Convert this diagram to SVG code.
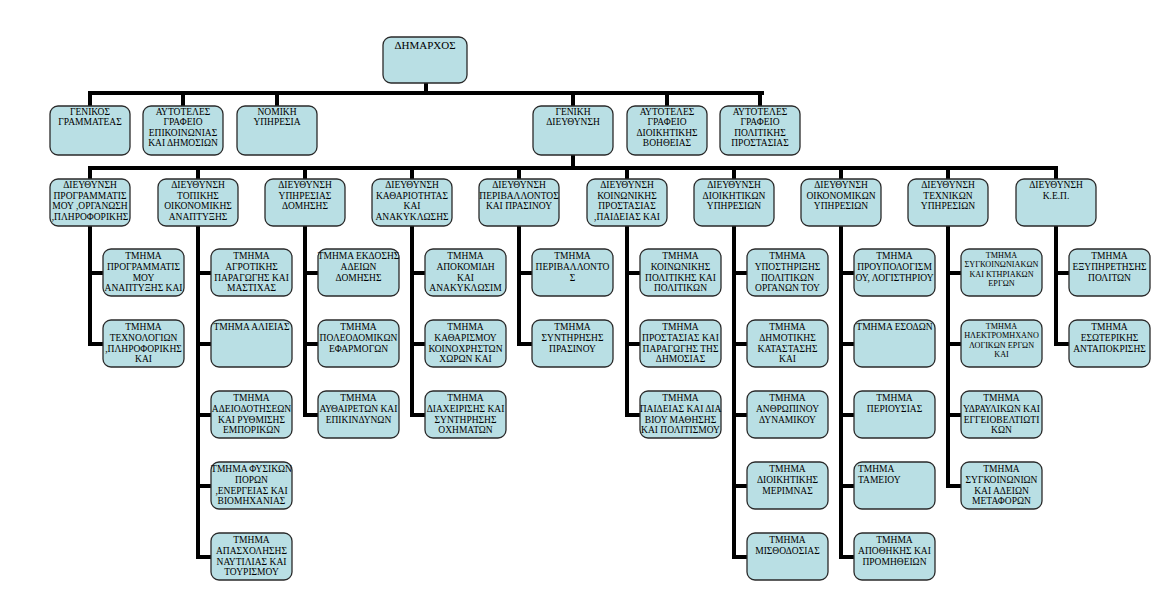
<svg xmlns="http://www.w3.org/2000/svg" width="1163" height="614" viewBox="0 0 1163 614">
<style>
.b{fill:#b9dfe4;stroke:#2a2a2a;stroke-width:1.3}
.t{font-family:"Liberation Serif","Times New Roman",serif;font-size:9.5px;fill:#000;text-anchor:middle}
.s{font-size:8.2px}
.big{font-size:11px}
.c{fill:none;stroke:#000;stroke-width:4;stroke-linecap:square}
</style>
<rect width="1163" height="614" fill="#fff"/>
<g id="connectors" class="c">
<path d="M426 83V93M90 93H762M90 93V106M183 93V106M277 93V106M573 93V106M667 93V106M760 93V106"/>
<path d="M573 155V168M90 168H1056M90 168V179M198 168V179M305 168V179M412 168V179M519 168V179M627 168V179M734 168V179M841 168V179M948 168V179M1056 168V179"/>
<path d="M90 226V344M90 273H103M90 344H103"/>
<path d="M198 226V557M198 273H211M198 344H211M198 415H211M198 486H211M198 557H211"/>
<path d="M305 226V415M305 273H318M305 344H318M305 415H318"/>
<path d="M412 226V415M412 273H425M412 344H425M412 415H425"/>
<path d="M519 226V344M519 273H532M519 344H532"/>
<path d="M627 226V415M627 273H640M627 344H640M627 415H640"/>
<path d="M734 226V557M734 273H747M734 344H747M734 415H747M734 486H747M734 557H747"/>
<path d="M841 226V557M841 273H854M841 344H854M841 415H854M841 486H854M841 557H854"/>
<path d="M948 226V486M948 273H961M948 344H961M948 415H961M948 486H961"/>
<path d="M1056 226V344M1056 273H1069M1056 344H1069"/>
</g>

<g id="dimarchos"><rect class="b" x="383" y="37" width="84" height="46" rx="8"/><text class="t big" x="425" y="49">ΔΗΜΑΡΧΟΣ</text></g>

<g id="genikos-grammateas"><rect class="b" x="50" y="106" width="80" height="49" rx="8"/><text class="t" x="90" y="115"><tspan x="90">ΓΕΝΙΚΟΣ</tspan><tspan x="90" dy="10.3">ΓΡΑΜΜΑΤΕΑΣ</tspan></text></g>
<g id="grafeio-epikoinonias"><rect class="b" x="143" y="106" width="80" height="49" rx="8"/><text class="t" x="183" y="115"><tspan x="183">ΑΥΤΟΤΕΛΕΣ</tspan><tspan x="183" dy="10.3">ΓΡΑΦΕΙΟ</tspan><tspan x="183" dy="10.3">ΕΠΙΚΟΙΝΩΝΙΑΣ</tspan><tspan x="183" dy="10.3">ΚΑΙ ΔΗΜΟΣΙΩΝ</tspan></text></g>
<g id="nomiki-ypiresia"><rect class="b" x="237" y="106" width="80" height="49" rx="8"/><text class="t" x="277" y="115"><tspan x="277">ΝΟΜΙΚΗ</tspan><tspan x="277" dy="10.3">ΥΠΗΡΕΣΙΑ</tspan></text></g>
<g id="geniki-diefthynsi"><rect class="b" x="533" y="106" width="80" height="49" rx="8"/><text class="t" x="573" y="115"><tspan x="573">ΓΕΝΙΚΗ</tspan><tspan x="573" dy="10.3">ΔΙΕΥΘΥΝΣΗ</tspan></text></g>
<g id="grafeio-dioikitikis"><rect class="b" x="627" y="106" width="80" height="49" rx="8"/><text class="t" x="667" y="115"><tspan x="667">ΑΥΤΟΤΕΛΕΣ</tspan><tspan x="667" dy="10.3">ΓΡΑΦΕΙΟ</tspan><tspan x="667" dy="10.3">ΔΙΟΙΚΗΤΙΚΗΣ</tspan><tspan x="667" dy="10.3">ΒΟΗΘΕΙΑΣ</tspan></text></g>
<g id="grafeio-politikis"><rect class="b" x="720" y="106" width="80" height="49" rx="8"/><text class="t" x="760" y="115"><tspan x="760">ΑΥΤΟΤΕΛΕΣ</tspan><tspan x="760" dy="10.3">ΓΡΑΦΕΙΟ</tspan><tspan x="760" dy="10.3">ΠΟΛΙΤΙΚΗΣ</tspan><tspan x="760" dy="10.3">ΠΡΟΣΤΑΣΙΑΣ</tspan></text></g>

<g id="d1"><rect class="b" x="50" y="179" width="80" height="47" rx="8"/><text class="t" x="90" y="188"><tspan x="90">ΔΙΕΥΘΥΝΣΗ</tspan><tspan x="90" dy="10.6">ΠΡΟΓΡΑΜΜΑΤΙΣ</tspan><tspan x="90" dy="10.6">ΜΟΥ ,ΟΡΓΑΝΩΣΗ</tspan><tspan x="90" dy="10.6">,ΠΛΗΡΟΦΟΡΙΚΗΣ</tspan></text></g>
<g id="d2"><rect class="b" x="158" y="179" width="80" height="47" rx="8"/><text class="t" x="198" y="188"><tspan x="198">ΔΙΕΥΘΥΝΣΗ</tspan><tspan x="198" dy="10.6">ΤΟΠΙΚΗΣ</tspan><tspan x="198" dy="10.6">ΟΙΚΟΝΟΜΙΚΗΣ</tspan><tspan x="198" dy="10.6">ΑΝΑΠΤΥΞΗΣ</tspan></text></g>
<g id="d3"><rect class="b" x="265" y="179" width="80" height="47" rx="8"/><text class="t" x="305" y="188"><tspan x="305">ΔΙΕΥΘΥΝΣΗ</tspan><tspan x="305" dy="10.6">ΥΠΗΡΕΣΙΑΣ</tspan><tspan x="305" dy="10.6">ΔΟΜΗΣΗΣ</tspan></text></g>
<g id="d4"><rect class="b" x="372" y="179" width="80" height="47" rx="8"/><text class="t" x="412" y="188"><tspan x="412">ΔΙΕΥΘΥΝΣΗ</tspan><tspan x="412" dy="10.6">ΚΑΘΑΡΙΟΤΗΤΑΣ</tspan><tspan x="412" dy="10.6">ΚΑΙ</tspan><tspan x="412" dy="10.6">ΑΝΑΚΥΚΛΩΣΗΣ</tspan></text></g>
<g id="d5"><rect class="b" x="479" y="179" width="80" height="47" rx="8"/><text class="t" x="519" y="188"><tspan x="519">ΔΙΕΥΘΥΝΣΗ</tspan><tspan x="519" dy="10.6">ΠΕΡΙΒΑΛΛΟΝΤΟΣ</tspan><tspan x="519" dy="10.6">ΚΑΙ ΠΡΑΣΙΝΟΥ</tspan></text></g>
<g id="d6"><rect class="b" x="587" y="179" width="80" height="47" rx="8"/><text class="t" x="627" y="188"><tspan x="627">ΔΙΕΥΘΥΝΣΗ</tspan><tspan x="627" dy="10.6">ΚΟΙΝΩΝΙΚΗΣ</tspan><tspan x="627" dy="10.6">ΠΡΟΣΤΑΣΙΑΣ</tspan><tspan x="627" dy="10.6">,ΠΑΙΔΕΙΑΣ ΚΑΙ</tspan></text></g>
<g id="d7"><rect class="b" x="694" y="179" width="80" height="47" rx="8"/><text class="t" x="734" y="188"><tspan x="734">ΔΙΕΥΘΥΝΣΗ</tspan><tspan x="734" dy="10.6">ΔΙΟΙΚΗΤΙΚΩΝ</tspan><tspan x="734" dy="10.6">ΥΠΗΡΕΣΙΩΝ</tspan></text></g>
<g id="d8"><rect class="b" x="801" y="179" width="80" height="47" rx="8"/><text class="t" x="841" y="188"><tspan x="841">ΔΙΕΥΘΥΝΣΗ</tspan><tspan x="841" dy="10.6">ΟΙΚΟΝΟΜΙΚΩΝ</tspan><tspan x="841" dy="10.6">ΥΠΗΡΕΣΙΩΝ</tspan></text></g>
<g id="d9"><rect class="b" x="908" y="179" width="80" height="47" rx="8"/><text class="t" x="948" y="188"><tspan x="948">ΔΙΕΥΘΥΝΣΗ</tspan><tspan x="948" dy="10.6">ΤΕΧΝΙΚΩΝ</tspan><tspan x="948" dy="10.6">ΥΠΗΡΕΣΙΩΝ</tspan></text></g>
<g id="d10"><rect class="b" x="1016" y="179" width="80" height="47" rx="8"/><text class="t" x="1056" y="188"><tspan x="1056">ΔΙΕΥΘΥΝΣΗ</tspan><tspan x="1056" dy="10.6">Κ.Ε.Π.</tspan></text></g>

<g id="d1-t1"><rect class="b" x="103" y="249" width="81" height="47" rx="8"/><text class="t" x="143.5" y="259"><tspan x="143.5">ΤΜΗΜΑ</tspan><tspan x="143.5" dy="10.8">ΠΡΟΓΡΑΜΜΑΤΙΣ</tspan><tspan x="143.5" dy="10.8">ΜΟΥ</tspan><tspan x="143.5" dy="10.8">ΑΝΑΠΤΥΞΗΣ ΚΑΙ</tspan></text></g>
<g id="d1-t2"><rect class="b" x="103" y="320" width="81" height="47" rx="8"/><text class="t" x="143.5" y="330"><tspan x="143.5">ΤΜΗΜΑ</tspan><tspan x="143.5" dy="10.8">ΤΕΧΝΟΛΟΓΙΩΝ</tspan><tspan x="143.5" dy="10.8">,ΠΛΗΡΟΦΟΡΙΚΗΣ</tspan><tspan x="143.5" dy="10.8">ΚΑΙ</tspan></text></g>

<g id="d2-t1"><rect class="b" x="211" y="249" width="81" height="47" rx="8"/><text class="t" x="251.5" y="259"><tspan x="251.5">ΤΜΗΜΑ</tspan><tspan x="251.5" dy="10.8">ΑΓΡΟΤΙΚΗΣ</tspan><tspan x="251.5" dy="10.8">ΠΑΡΑΓΩΓΗΣ ΚΑΙ</tspan><tspan x="251.5" dy="10.8">ΜΑΣΤΙΧΑΣ</tspan></text></g>
<g id="d2-t2"><rect class="b" x="211" y="320" width="81" height="47" rx="8"/><text class="t" x="251.5" y="330">ΤΜΗΜΑ ΑΛΙΕΙΑΣ</text></g>
<g id="d2-t3"><rect class="b" x="211" y="391" width="81" height="47" rx="8"/><text class="t" x="251.5" y="401"><tspan x="251.5">ΤΜΗΜΑ</tspan><tspan x="251.5" dy="10.8">ΑΔΕΙΟΔΟΤΗΣΕΩΝ</tspan><tspan x="251.5" dy="10.8">ΚΑΙ  ΡΥΘΜΙΣΗΣ</tspan><tspan x="251.5" dy="10.8">ΕΜΠΟΡΙΚΩΝ</tspan></text></g>
<g id="d2-t4"><rect class="b" x="211" y="462" width="81" height="47" rx="8"/><text class="t" x="251.5" y="472"><tspan x="251.5">ΤΜΗΜΑ ΦΥΣΙΚΩΝ</tspan><tspan x="251.5" dy="10.8">ΠΟΡΩΝ</tspan><tspan x="251.5" dy="10.8">,ΕΝΕΡΓΕΙΑΣ ΚΑΙ</tspan><tspan x="251.5" dy="10.8">ΒΙΟΜΗΧΑΝΙΑΣ</tspan></text></g>
<g id="d2-t5"><rect class="b" x="211" y="533" width="81" height="47" rx="8"/><text class="t" x="251.5" y="543"><tspan x="251.5">ΤΜΗΜΑ</tspan><tspan x="251.5" dy="10.8">ΑΠΑΣΧΟΛΗΣΗΣ</tspan><tspan x="251.5" dy="10.8">ΝΑΥΤΙΛΙΑΣ ΚΑΙ</tspan><tspan x="251.5" dy="10.8">ΤΟΥΡΙΣΜΟΥ</tspan></text></g>

<g id="d3-t1"><rect class="b" x="318" y="249" width="81" height="47" rx="8"/><text class="t" x="358.5" y="259"><tspan x="358.5">ΤΜΗΜΑ ΕΚΔΟΣΗΣ</tspan><tspan x="358.5" dy="10.8">ΑΔΕΙΩΝ</tspan><tspan x="358.5" dy="10.8">ΔΟΜΗΣΗΣ</tspan></text></g>
<g id="d3-t2"><rect class="b" x="318" y="320" width="81" height="47" rx="8"/><text class="t" x="358.5" y="330"><tspan x="358.5">ΤΜΗΜΑ</tspan><tspan x="358.5" dy="10.8">ΠΟΛΕΟΔΟΜΙΚΩΝ</tspan><tspan x="358.5" dy="10.8">ΕΦΑΡΜΟΓΩΝ</tspan></text></g>
<g id="d3-t3"><rect class="b" x="318" y="391" width="81" height="47" rx="8"/><text class="t" x="358.5" y="401"><tspan x="358.5">ΤΜΗΜΑ</tspan><tspan x="358.5" dy="10.8">ΑΥΘΑΙΡΕΤΩΝ ΚΑΙ</tspan><tspan x="358.5" dy="10.8">ΕΠΙΚΙΝΔΥΝΩΝ</tspan></text></g>

<g id="d4-t1"><rect class="b" x="425" y="249" width="81" height="47" rx="8"/><text class="t" x="465.5" y="259"><tspan x="465.5">ΤΜΗΜΑ</tspan><tspan x="465.5" dy="10.8">ΑΠΟΚΟΜΙΔΗ</tspan><tspan x="465.5" dy="10.8">ΚΑΙ</tspan><tspan x="465.5" dy="10.8">ΑΝΑΚΥΚΛΩΣΙΜ</tspan></text></g>
<g id="d4-t2"><rect class="b" x="425" y="320" width="81" height="47" rx="8"/><text class="t" x="465.5" y="330"><tspan x="465.5">ΤΜΗΜΑ</tspan><tspan x="465.5" dy="10.8">ΚΑΘΑΡΙΣΜΟΥ</tspan><tspan x="465.5" dy="10.8">ΚΟΙΝΟΧΡΗΣΤΩΝ</tspan><tspan x="465.5" dy="10.8">ΧΩΡΩΝ ΚΑΙ</tspan></text></g>
<g id="d4-t3"><rect class="b" x="425" y="391" width="81" height="47" rx="8"/><text class="t" x="465.5" y="401"><tspan x="465.5">ΤΜΗΜΑ</tspan><tspan x="465.5" dy="10.8">ΔΙΑΧΕΙΡΙΣΗΣ ΚΑΙ</tspan><tspan x="465.5" dy="10.8">ΣΥΝΤΗΡΗΣΗΣ</tspan><tspan x="465.5" dy="10.8">ΟΧΗΜΑΤΩΝ</tspan></text></g>

<g id="d5-t1"><rect class="b" x="532" y="249" width="81" height="47" rx="8"/><text class="t" x="572.5" y="259"><tspan x="572.5">ΤΜΗΜΑ</tspan><tspan x="572.5" dy="10.8">ΠΕΡΙΒΑΛΛΟΝΤΟ</tspan><tspan x="572.5" dy="10.8">Σ</tspan></text></g>
<g id="d5-t2"><rect class="b" x="532" y="320" width="81" height="47" rx="8"/><text class="t" x="572.5" y="330"><tspan x="572.5">ΤΜΗΜΑ</tspan><tspan x="572.5" dy="10.8">ΣΥΝΤΗΡΗΣΗΣ</tspan><tspan x="572.5" dy="10.8">ΠΡΑΣΙΝΟΥ</tspan></text></g>

<g id="d6-t1"><rect class="b" x="640" y="249" width="81" height="47" rx="8"/><text class="t" x="680.5" y="259"><tspan x="680.5">ΤΜΗΜΑ</tspan><tspan x="680.5" dy="10.8">ΚΟΙΝΩΝΙΚΗΣ</tspan><tspan x="680.5" dy="10.8">ΠΟΛΙΤΙΚΗΣ ΚΑΙ</tspan><tspan x="680.5" dy="10.8">ΠΟΛΙΤΙΚΩΝ</tspan></text></g>
<g id="d6-t2"><rect class="b" x="640" y="320" width="81" height="47" rx="8"/><text class="t" x="680.5" y="330"><tspan x="680.5">ΤΜΗΜΑ</tspan><tspan x="680.5" dy="10.8">ΠΡΟΣΤΑΣΙΑΣ ΚΑΙ</tspan><tspan x="680.5" dy="10.8">ΠΑΡΑΓΩΓΗΣ ΤΗΣ</tspan><tspan x="680.5" dy="10.8">ΔΗΜΟΣΙΑΣ</tspan></text></g>
<g id="d6-t3"><rect class="b" x="640" y="391" width="81" height="47" rx="8"/><text class="t" x="680.5" y="401"><tspan x="680.5">ΤΜΗΜΑ</tspan><tspan x="680.5" dy="10.8">ΠΑΙΔΕΙΑΣ ΚΑΙ ΔΙΑ</tspan><tspan x="680.5" dy="10.8">ΒΙΟΥ ΜΑΘΗΣΗΣ</tspan><tspan x="680.5" dy="10.8">ΚΑΙ ΠΟΛΙΤΙΣΜΟΥ</tspan></text></g>

<g id="d7-t1"><rect class="b" x="747" y="249" width="81" height="47" rx="8"/><text class="t" x="787.5" y="259"><tspan x="787.5">ΤΜΗΜΑ</tspan><tspan x="787.5" dy="10.8">ΥΠΟΣΤΗΡΙΞΗΣ</tspan><tspan x="787.5" dy="10.8">ΠΟΛΙΤΙΚΩΝ</tspan><tspan x="787.5" dy="10.8">ΟΡΓΑΝΩΝ  ΤΟΥ</tspan></text></g>
<g id="d7-t2"><rect class="b" x="747" y="320" width="81" height="47" rx="8"/><text class="t" x="787.5" y="330"><tspan x="787.5">ΤΜΗΜΑ</tspan><tspan x="787.5" dy="10.8">ΔΗΜΟΤΙΚΗΣ</tspan><tspan x="787.5" dy="10.8">ΚΑΤΑΣΤΑΣΗΣ</tspan><tspan x="787.5" dy="10.8">ΚΑΙ</tspan></text></g>
<g id="d7-t3"><rect class="b" x="747" y="391" width="81" height="47" rx="8"/><text class="t" x="787.5" y="401"><tspan x="787.5">ΤΜΗΜΑ</tspan><tspan x="787.5" dy="10.8">ΑΝΘΡΩΠΙΝΟΥ</tspan><tspan x="787.5" dy="10.8">ΔΥΝΑΜΙΚΟΥ</tspan></text></g>
<g id="d7-t4"><rect class="b" x="747" y="462" width="81" height="47" rx="8"/><text class="t" x="787.5" y="472"><tspan x="787.5">ΤΜΗΜΑ</tspan><tspan x="787.5" dy="10.8">ΔΙΟΙΚΗΤΙΚΗΣ</tspan><tspan x="787.5" dy="10.8">ΜΕΡΙΜΝΑΣ</tspan></text></g>
<g id="d7-t5"><rect class="b" x="747" y="533" width="81" height="47" rx="8"/><text class="t" x="787.5" y="543"><tspan x="787.5">ΤΜΗΜΑ</tspan><tspan x="787.5" dy="10.8">ΜΙΣΘΟΔΟΣΙΑΣ</tspan></text></g>

<g id="d8-t1"><rect class="b" x="854" y="249" width="81" height="47" rx="8"/><text class="t" x="894.5" y="259"><tspan x="894.5">ΤΜΗΜΑ</tspan><tspan x="894.5" dy="10.8">ΠΡΟΥΠΟΛΟΓΙΣΜ</tspan><tspan x="894.5" dy="10.8">ΟΥ, ΛΟΓΙΣΤΗΡΙΟΥ</tspan></text></g>
<g id="d8-t2"><rect class="b" x="854" y="320" width="81" height="47" rx="8"/><text class="t" x="894.5" y="330">ΤΜΗΜΑ ΕΣΟΔΩΝ</text></g>
<g id="d8-t3"><rect class="b" x="854" y="391" width="81" height="47" rx="8"/><text class="t" x="894.5" y="401"><tspan x="894.5">ΤΜΗΜΑ</tspan><tspan x="894.5" dy="10.8">ΠΕΡΙΟΥΣΙΑΣ</tspan></text></g>
<g id="d8-t4"><rect class="b" x="854" y="462" width="81" height="47" rx="8"/><text class="t" x="858" y="472" style="text-anchor:start"><tspan x="858">ΤΜΗΜΑ</tspan><tspan x="858" dy="10.8">ΤΑΜΕΙΟΥ</tspan></text></g>
<g id="d8-t5"><rect class="b" x="854" y="533" width="81" height="47" rx="8"/><text class="t" x="894.5" y="543"><tspan x="894.5">ΤΜΗΜΑ</tspan><tspan x="894.5" dy="10.8">ΑΠΟΘΗΚΗΣ ΚΑΙ</tspan><tspan x="894.5" dy="10.8">ΠΡΟΜΗΘΕΙΩΝ</tspan></text></g>

<g id="d9-t1"><rect class="b" x="961" y="249" width="81" height="47" rx="8"/><text class="t s" x="1001.5" y="258"><tspan x="1001.5">ΤΜΗΜΑ</tspan><tspan x="1001.5" dy="9.4">ΣΥΓΚΟΙΝΩΝΙΑΚΩΝ</tspan><tspan x="1001.5" dy="9.4">ΚΑΙ ΚΤΗΡΙΑΚΩΝ</tspan><tspan x="1001.5" dy="9.4">ΕΡΓΩΝ</tspan></text></g>
<g id="d9-t2"><rect class="b" x="961" y="320" width="81" height="47" rx="8"/><text class="t s" x="1001.5" y="329"><tspan x="1001.5">ΤΜΗΜΑ</tspan><tspan x="1001.5" dy="9.4">ΗΛΕΚΤΡΟΜΗΧΑΝΟ</tspan><tspan x="1001.5" dy="9.4">ΛΟΓΙΚΩΝ ΕΡΓΩΝ</tspan><tspan x="1001.5" dy="9.4">ΚΑΙ</tspan></text></g>
<g id="d9-t3"><rect class="b" x="961" y="391" width="81" height="47" rx="8"/><text class="t" x="1001.5" y="401"><tspan x="1001.5">ΤΜΗΜΑ</tspan><tspan x="1001.5" dy="10.8">ΥΔΡΑΥΛΙΚΩΝ ΚΑΙ</tspan><tspan x="1001.5" dy="10.8">ΕΓΓΕΙΟΒΕΛΤΙΩΤΙ</tspan><tspan x="1001.5" dy="10.8">ΚΩΝ</tspan></text></g>
<g id="d9-t4"><rect class="b" x="961" y="462" width="81" height="47" rx="8"/><text class="t" x="1001.5" y="472"><tspan x="1001.5">ΤΜΗΜΑ</tspan><tspan x="1001.5" dy="10.8">ΣΥΓΚΟΙΝΩΝΙΩΝ</tspan><tspan x="1001.5" dy="10.8">ΚΑΙ ΑΔΕΙΩΝ</tspan><tspan x="1001.5" dy="10.8">ΜΕΤΑΦΟΡΩΝ</tspan></text></g>

<g id="d10-t1"><rect class="b" x="1069" y="249" width="81" height="47" rx="8"/><text class="t" x="1109.5" y="259"><tspan x="1109.5">ΤΜΗΜΑ</tspan><tspan x="1109.5" dy="10.8">ΕΞΥΠΗΡΕΤΗΣΗΣ</tspan><tspan x="1109.5" dy="10.8">ΠΟΛΙΤΩΝ</tspan></text></g>
<g id="d10-t2"><rect class="b" x="1069" y="320" width="81" height="47" rx="8"/><text class="t" x="1109.5" y="330"><tspan x="1109.5">ΤΜΗΜΑ</tspan><tspan x="1109.5" dy="10.8">ΕΣΩΤΕΡΙΚΗΣ</tspan><tspan x="1109.5" dy="10.8">ΑΝΤΑΠΟΚΡΙΣΗΣ</tspan></text></g>
</svg>
